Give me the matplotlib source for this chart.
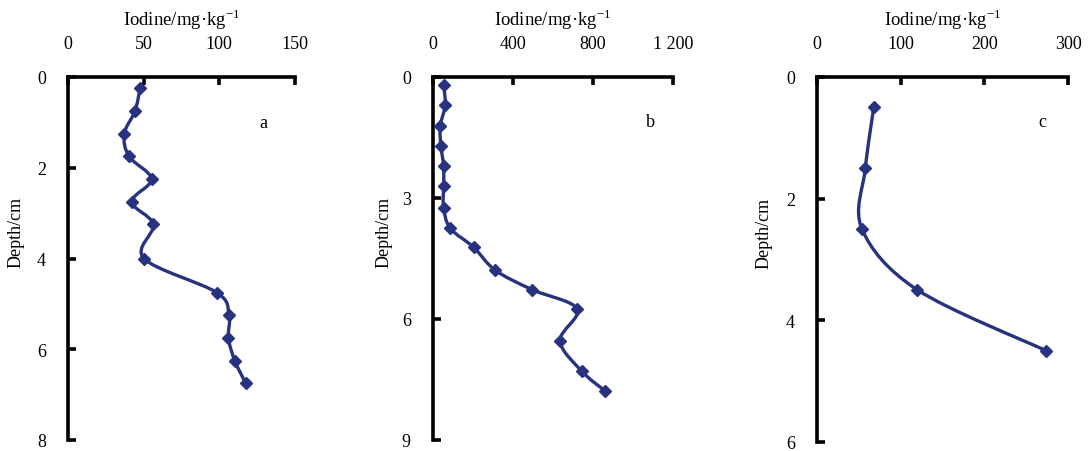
import matplotlib
matplotlib.use("Agg")
import matplotlib.pyplot as plt
import numpy as np
from matplotlib.path import Path
from matplotlib.patches import PathPatch

plt.rcParams["font.family"] = ["Liberation Serif", "DejaVu Serif"]
plt.rcParams["mathtext.fontset"] = "custom"
plt.rcParams["mathtext.rm"] = "Liberation Serif"

# ── data ─────────────────────────────────────────────────────────────────────
depth_a = [0.25, 0.75, 1.25, 1.75, 2.25, 2.75, 3.25, 4.0, 4.75, 5.25, 5.75, 6.25, 6.75]
iodine_a = [47.6, 44.3, 37.2, 40.3, 55.3, 42.1, 56.4, 50.2, 98.3, 106.4, 106.0, 110.2, 117.4]

depth_b = [0.2, 0.7, 1.22, 1.72, 2.21, 2.71, 3.24, 3.75, 4.22, 4.79, 5.27, 5.75, 6.54, 7.29, 7.78]
iodine_b = [53, 61, 36, 40, 53, 53, 53, 86, 203, 311, 494, 721, 635, 743, 859]

depth_c = [0.5, 1.5, 2.5, 3.5, 4.5]
iodine_c = [67.8, 57.8, 53.8, 120, 274]

panels = [
    ("a", iodine_a, depth_a, (0, 150), [0, 50, 100, 150], ["0", "50", "100", "150"],
     (0, 8), [0, 2, 4, 6, 8]),
    ("b", iodine_b, depth_b, (0, 1200), [0, 400, 800, 1200], ["0", "400", "800", "1 200"],
     (0, 9), [0, 3, 6, 9]),
    ("c", iodine_c, depth_c, (0, 300), [0, 100, 200, 300], ["0", "100", "200", "300"],
     (0, 6), [0, 2, 4, 6]),
]

# axes boxes in pixels: left, right, top, bottom
W, H = 1088, 452
boxes = [(68, 295, 78, 441), (433, 673, 78, 441), (817, 1068, 78, 443)]
letter_pos = [(263, 124), (650, 123), (1042, 123)]
ylabel_x = [25, 393, 773]

color = "#27337f"


def smooth_path(xs, ys, xlim, ylim):
    """Catmull-Rom style smoothed path (like a spreadsheet smoothed line)."""
    xs = np.asarray(xs, float)
    ys = np.asarray(ys, float)
    sx = xlim[1] - xlim[0]
    sy = ylim[1] - ylim[0]
    u = (xs - xlim[0]) / sx
    v = (ys - ylim[0]) / sy
    pts = np.column_stack([u, v])
    n = len(pts)
    verts = [pts[0]]
    codes = [Path.MOVETO]
    for i in range(n - 1):
        p0 = pts[max(i - 1, 0)]
        p1 = pts[i]
        p2 = pts[i + 1]
        p3 = pts[min(i + 2, n - 1)]
        c1 = p1 + (p2 - p0) / 6.0
        c2 = p2 - (p3 - p1) / 6.0
        verts += [c1, c2, p2]
        codes += [Path.CURVE4] * 3
    verts = np.array(verts)
    verts[:, 0] = verts[:, 0] * sx + xlim[0]
    verts[:, 1] = verts[:, 1] * sy + ylim[0]
    return Path(verts, codes)


fig = plt.figure(figsize=(W / 100, H / 100), dpi=100)

for (letter, xv, yv, xlim, xt, xtl, ylim, yt), (l, r, t, b), (lx, ly), ylx in zip(
        panels, boxes, letter_pos, ylabel_x):
    ax = fig.add_axes([l / W, 1 - b / H, (r - l) / W, (b - t) / H])
    ax.set_xlim(xlim)
    ax.set_ylim(ylim[1], ylim[0])
    ax.xaxis.tick_top()
    ax.xaxis.set_label_position("top")
    ax.set_xticks(xt)
    ax.set_xticklabels(xtl)
    ax.set_yticks(yt)
    for s in ["right", "bottom"]:
        ax.spines[s].set_visible(False)
    for s in ["top", "left"]:
        ax.spines[s].set_linewidth(2.6)
        ax.spines[s].set_capstyle("projecting")
    ax.tick_params(axis="both", direction="in", length=6, width=2.6,
                   labelsize=13)
    ax.tick_params(axis="x", pad=18)
    ax.tick_params(axis="y", pad=16)
    ax.set_xlabel("Iodine/mg·kg$^{\\mathregular{-1}}$", fontsize=13.5, labelpad=7)
    ax.set_ylabel("Depth/cm", fontsize=13)
    ax.yaxis.set_label_coords((ylx - l) / (r - l), 0.575)

    path = smooth_path(xv, yv, xlim, ylim)
    ax.add_patch(PathPatch(path, facecolor="none", edgecolor=color, lw=2.4,
                           clip_on=False, zorder=3))
    ax.plot(xv, yv, linestyle="none", marker="D", ms=6, color=color,
            clip_on=False, zorder=4)

    fig.text(lx / W, 1 - ly / H, letter, fontsize=13, ha="center", va="center")

fig.savefig("out.png", dpi=100)
